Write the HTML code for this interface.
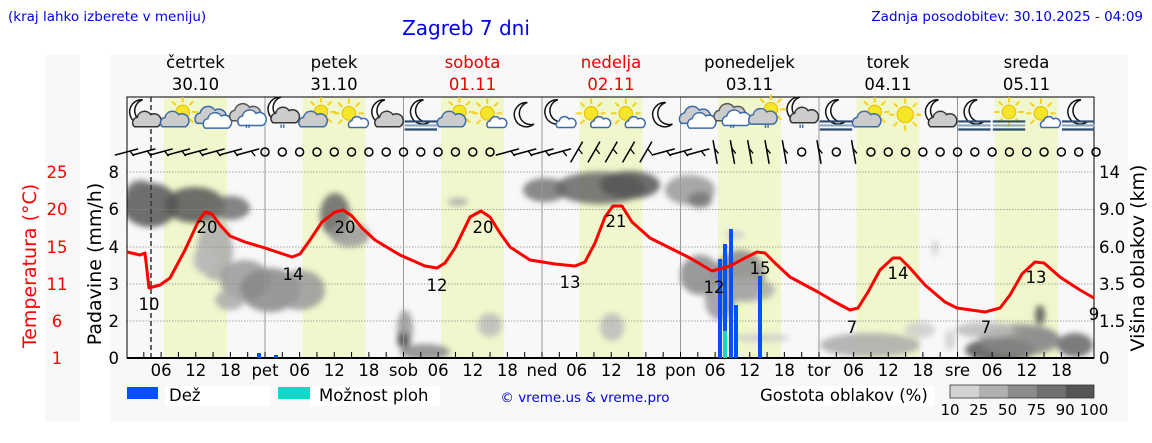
<!DOCTYPE html>
<html><head><meta charset="utf-8"><style>
html,body{margin:0;padding:0;background:#fff;}
svg{display:block;font-family:"DejaVu Sans","Liberation Sans",sans-serif;}
</style></head><body>
<svg id="s" width="1152" height="443" viewBox="0 0 1152 443" xmlns="http://www.w3.org/2000/svg">
<defs>
<filter id="bl" x="-50%" y="-50%" width="200%" height="200%"><feGaussianBlur stdDeviation="3"/></filter>
<clipPath id="pc"><rect x="127" y="97" width="967" height="261"/></clipPath>
</defs>
<rect x="45" y="55" width="35" height="367" fill="#f8f8f8"/>
<rect x="110" y="55" width="1018" height="367" fill="#f8f8f8"/>
<g id="bands"></g>
<g id="clouds" clip-path="url(#pc)" filter="url(#bl)"></g>
<g id="grid"></g>
<g id="icons"></g>
<g id="wind"></g>
<g id="bars"></g>
<polyline id="temp" fill="none" stroke="#f00" stroke-width="3" stroke-linejoin="round" points=""/>
<g id="txt"></g>
</svg>
<script>
var NS="http://www.w3.org/2000/svg";
function el(p,t,a,txt){var e=document.createElementNS(NS,t);for(var k in a)e.setAttribute(k,a[k]);if(txt!=null)e.textContent=txt;(typeof p=='string'?document.getElementById(p):p).appendChild(e);return e;}
var X0=126.5,D=138.5;function hx(h){return X0+h*D/24;}
for(var d=0;d<7;d++){el('bands','rect',{x:X0+d*D+37.5,y:97,width:63,height:261,fill:'#f0f7cc'});}
var C=[
[150,205,28,22,'#555'],[195,205,30,18,'#555'],[230,208,20,12,'#707070'],[140,195,15,15,'#707070'],
[215,250,18,30,'#aaa'],[245,280,25,20,'#999'],[270,290,30,22,'#888'],[300,290,25,20,'#999'],[230,300,15,10,'#aaa'],[205,260,12,14,'#bbb'],
[335,215,15,22,'#666'],[350,235,20,12,'#999'],[405,330,8,20,'#999'],[403,340,6,8,'#555'],[425,352,25,8,'#888'],[490,325,12,12,'#bbb'],[458,202,10,4,'#aaa'],
[545,190,22,12,'#777'],[600,188,45,16,'#666'],[630,185,30,14,'#555'],[690,190,25,15,'#999'],[700,200,12,8,'#777'],[612,327,12,14,'#bbb'],
[700,275,20,20,'#888'],[740,275,25,25,'#888'],[720,300,15,20,'#999'],[745,290,30,12,'#aaa'],[735,235,10,4,'#ccc'],[760,338,30,4,'#ccc'],
[870,345,50,12,'#aaa'],[950,340,5,10,'#ccc'],[935,248,3,8,'#ccc'],[1040,338,20,10,'#bbb'],[1000,350,35,12,'#555'],[1020,340,40,16,'#888'],[1075,345,18,12,'#666'],[1040,315,5,10,'#555'],[920,330,15,8,'#ccc'],[985,330,30,8,'#bbb']];
C.forEach(function(c){el('clouds','ellipse',{cx:c[0],cy:c[1],rx:c[2],ry:c[3],fill:c[4],opacity:0.85});});
[172,209.5,247,284,321].forEach(function(y){el('grid','line',{x1:127,x2:1094,y1:y,y2:y,stroke:'#888','stroke-width':0.7,'stroke-dasharray':'1.5,1.5'});});
for(var d=1;d<7;d++){var x=X0+d*D;el('grid','line',{x1:x,x2:x,y1:97,y2:358,stroke:'#999','stroke-width':1});}
el('grid','line',{x1:151,x2:151,y1:97,y2:358,stroke:'#333','stroke-width':1.5,'stroke-dasharray':'5,3'});
el('grid','rect',{x:127,y:97,width:967,height:261,fill:'none',stroke:'#000','stroke-width':1});
el('grid','line',{x1:127,x2:1094,y1:358,y2:358,stroke:'#000','stroke-width':2});
for(var h=3;h<168;h+=3){var x=hx(h);el('grid','line',{x1:x,x2:x,y1:352,y2:358,stroke:'#000','stroke-width':1});}
var T="MC SC CC CR MR SC Ss MC MF SC Ss M Mc Ss Ss M CC CR SR MR MF SC S MC MF SF Ss MF".split(" ");
T.forEach(function(t,i){var cx=144+i*34.6,cy=116,g=el('icons','g',{transform:'translate('+cx+','+cy+') scale(1.35)'});
 function sun(x,y,r){for(var a=0;a<8;a++){var an=a*Math.PI/4;el(g,'line',{x1:x+Math.cos(an)*(r+2),y1:y+Math.sin(an)*(r+2),x2:x+Math.cos(an)*(r+6),y2:y+Math.sin(an)*(r+6),stroke:'#f4d31e','stroke-width':1.5});}el(g,'circle',{cx:x,cy:y,r:r,fill:'#f6e62a',stroke:'#e8c000','stroke-width':0.8});}
 function moon(x,y){el(g,'path',{d:'M'+(x+2)+' '+(y-10)+' A9 9 0 1 0 '+(x+7)+' '+(y+6)+' A7.5 7.5 0 1 1 '+(x+2)+' '+(y-10)+'Z',fill:'#fff',stroke:'#111','stroke-width':1.1});}
 function cloud(x,y,s,f,st){el(g,'path',{d:'M'+(x-9*s)+' '+(y+5*s)+' a'+4*s+' '+4*s+' 0 0 1 '+2*s+' '+(-7*s)+' a'+5.5*s+' '+5.5*s+' 0 0 1 '+10*s+' '+(-2*s)+' a'+5*s+' '+5*s+' 0 0 1 '+5*s+' '+9*s+' z',fill:f,stroke:st,'stroke-width':1.1});}
 function fog(x,y){for(var k=0;k<3;k++)el(g,'line',{x1:x-12,x2:x+12,y1:y+k*3,y2:y+k*3,stroke:k==1?'#8fa7c2':'#2b4a70','stroke-width':1.6});}
 function rain(x,y){el(g,'text',{x:x,y:y,'font-size':9,fill:'#3a6aa8','text-anchor':'middle','font-weight':'bold'},'"');}
 if(t=='MC'){moon(-3,-2);cloud(2,3,1,'#ccc','#333');}
 else if(t=='Mc'){moon(-3,-2);cloud(5,5,0.7,'#fff','#3a6aa8');}
 else if(t=='M'){moon(0,0);}
 else if(t=='MR'){moon(-3,-4);cloud(2,0,1,'#ccc','#333');rain(0,13);}
 else if(t=='MF'){moon(0,-2);fog(0,4);}
 else if(t=='SC'){sun(3,-3,5);cloud(-3,3,1,'#ccc','#3a6aa8');}
 else if(t=='SR'){sun(3,-5,5);cloud(-3,1,1,'#ccc','#3a6aa8');rain(0,13);}
 else if(t=='Ss'){sun(-2,-2,5);cloud(5,5,0.7,'#fff','#3a6aa8');}
 else if(t=='S'){sun(0,-1,6);}
 else if(t=='SF'){sun(0,-3,5);fog(0,4);}
 else if(t=='CC'){cloud(-2,0,1.1,'#ccc','#3a6aa8');cloud(3,4,1,'#fff','#3a6aa8');}
 else if(t=='CR'){cloud(-2,-2,1.1,'#ccc','#555');cloud(3,2,1,'#fff','#3a6aa8');rain(0,13);}
});
for(var i=0;i<57;i++){var x=hx(i*3),y=152;
 var barb=(i<=7)||(i>=22&&i<=38)||i==40||i==42;
 if(barb){var ang=(i<=33)?-15:-100;if(i>=26&&i<=30)ang=-60;
  var r=ang*Math.PI/180,dx=Math.cos(r)*12,dy=Math.sin(r)*12;
  el('wind','line',{x1:x-dx,y1:y-dy,x2:x+dx,y2:y+dy,stroke:'#000','stroke-width':1.5});
  el('wind','line',{x1:x+dx*0.3,y1:y+dy*0.3,x2:x+dx*0.3+4,y2:y+dy*0.3+5,stroke:'#000','stroke-width':1.3});}
 else el('wind','circle',{cx:x,cy:y,r:4,fill:'none',stroke:'#000','stroke-width':1.5});}
[[720,259,'#0050ff'],[725,244,'#0050ff'],[731,229,'#0050ff'],[736,305,'#0050ff'],[760,276,'#0050ff'],[259,353,'#0050ff'],[276,355,'#0050ff']].forEach(function(b){el('bars','rect',{x:b[0]-2,y:b[1],width:4,height:358-b[1],fill:b[2]});});
el('bars','rect',{x:723,y:331,width:4,height:27,fill:'#10d8c8'});
document.getElementById('temp').setAttribute('points',"127,252 140,255 145,253 149,288 160,285 170,278 185,250 198,222 205,212 212,214 220,225 230,236 245,242 265,248 280,253 292,257 300,254 310,240 322,222 335,212 343,210 352,216 362,228 375,240 400,255 425,266 437,268 445,263 455,248 470,217 481,211 490,217 500,233 510,247 530,260 555,264 575,266 585,262 595,243 605,217 613,206 622,206 632,222 650,238 668,247 690,258 712,271 730,266 745,258 757,252 765,253 775,263 790,277 818,292 835,302 850,310 858,308 868,292 880,270 893,258 900,258 910,268 925,285 945,302 957,308 985,312 1000,308 1010,295 1022,274 1035,262 1044,263 1060,277 1080,290 1094,298");
function tx(x,y,s,c,a,str,extra){var o={x:x,y:y,'font-size':s,fill:c,'text-anchor':a};for(var k in extra)o[k]=extra[k];return el('txt','text',o,str);}
tx(8,21,13.5,'#0000ee','start','(kraj lahko izberete v meniju)');
tx(466,35,20,'#0000ee','middle','Zagreb 7 dni');
tx(1143,21,13.5,'#0000ee','end','Zadnja posodobitev: 30.10.2025 - 04:09');
var dn=["četrtek","petek","sobota","nedelja","ponedeljek","torek","sreda"],dt=["30.10","31.10","01.11","02.11","03.11","04.11","05.11"];
for(var d=0;d<7;d++){var c=(d==2||d==3)?'#e00':'#000',x=X0+d*D+69;tx(x,68,16.5,c,'middle',dn[d]);tx(x,90,16.5,c,'middle',dt[d]);}
[["25",178],["20",215],["15",253],["11",290],["6",327],["1",364]].forEach(function(a){tx(57,a[1],16.5,'#f00','middle',a[0]);});
[["8",178],["6",215],["4",253],["3",290],["2",327],["0",364]].forEach(function(a){tx(119,a[1],16.5,'#000','end',a[0]);});
[["14",178],["9.0",215],["6.0",253],["3.5",290],["1.5",327],["0",364]].forEach(function(a){tx(1099,a[1],16.5,'#000','start',a[0]);});
tx(36,266,19,'#f00','middle','Temperatura (°C)',{transform:'rotate(-90 36 266)'});
tx(101,264,19,'#000','middle','Padavine (mm/h)',{transform:'rotate(-90 101 264)'});
tx(1144,258,19,'#000','middle','Višina oblakov (km)',{transform:'rotate(-90 1144 258)'});
var dl=["čet","pet","sob","ned","pon","tor","sre"];
for(var d=0;d<7;d++){if(d>0)tx(X0+d*D,376,16.5,'#000','middle',dl[d]);["06","12","18"].forEach(function(h,k){tx(X0+d*D+(k+1)*D/4,376,16.5,'#000','middle',h);});}
[[304,"10"],[227,"20"],[274,"14"],[227,"20"],[285,"12"],[227,"20"],[282,"13"],[221,"21"],[287,"12"],[268,"15"],[327,"7"],[273,"14"],[327,"7"],[277,"13"],[314,"9"]].forEach(function(a,i){var xs=[149,207,293,345,437,483,570,616,714,760,852,898,986,1036,1094];tx(xs[i],a[0]+6,16.5,'#000','middle',a[1]);});
el('txt','rect',{x:127,y:387,width:31,height:12,fill:'#0050ff'});
el('txt','rect',{x:165,y:386,width:105,height:20,fill:'#fff'});
tx(169,401,16.5,'#000','start','Dež');
el('txt','rect',{x:278,y:387,width:32,height:12,fill:'#10d8c8'});
el('txt','rect',{x:310,y:386,width:130,height:20,fill:'#fff'});
tx(319,401,16.5,'#000','start','Možnost ploh');
tx(585,402,13.5,'#0000ee','middle','© vreme.us & vreme.pro');
el('txt','rect',{x:760,y:386,width:175,height:20,fill:'#fff'});
tx(760,401,16.5,'#000','start','Gostota oblakov (%)');
["#d3d3d3","#b0b0b0","#8c8c8c","#707070","#555"].forEach(function(c,i){el('txt','rect',{x:950+i*28.8,y:385,width:28.8,height:13,fill:c});});
el('txt','rect',{x:950,y:385,width:144,height:13,fill:'none',stroke:'#333','stroke-width':0.8});
["10","25","50","75","90","100"].forEach(function(l,i){tx(950+i*28.8,415,15,'#000','middle',l);});
</script>
</body></html>
